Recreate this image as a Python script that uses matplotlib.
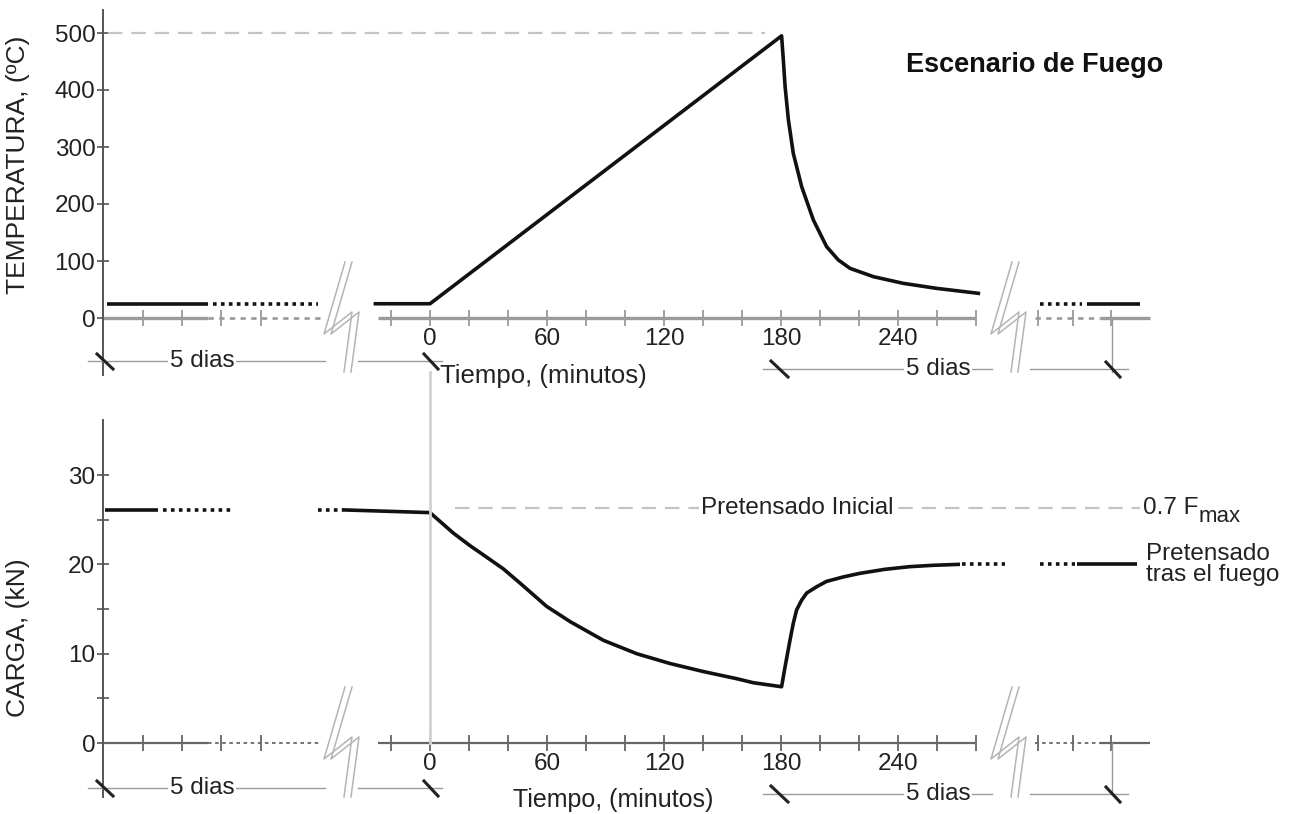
import matplotlib.pyplot as plt

plt.rcParams['font.family'] = ['Liberation Sans', 'DejaVu Sans']

# ---- values (time in minutes) ----
temp_time = [-28, 0, 180.3, 181.2, 182.1, 183.8, 186.3, 190.6, 196.6, 203.4,
             209.4, 215.4, 227.4, 242.7, 259.8, 281.2]
temp_vals = [25, 25, 495, 452.6, 405.8, 347.4, 288.9, 230.4, 171.9, 125.1,
             101.8, 87.1, 72.5, 60.8, 52.0, 43.3]
temp_ambient = 25
temp_limit = 500

load_time = [-44, 0, 12, 20.5, 29.1, 37.6, 46.2, 59.8, 71.8, 88.9, 106, 123.1,
             140.2, 157.3, 165.8, 180.3, 182.1, 184.6, 186.3, 188.0, 190.6,
             193.2, 198.3, 203.4, 212.0, 220.5, 233.3, 246.2, 258.1, 270.9]
load_vals = [26.1, 25.8, 23.5, 22.1, 20.8, 19.5, 17.9, 15.3, 13.6, 11.5, 10.0, 8.9,
             8.0, 7.2, 6.75, 6.3, 8.55, 11.5, 13.4, 14.9, 16.0,
             16.8, 17.5, 18.1, 18.6, 19.0, 19.45, 19.75, 19.9, 20.0]
load_initial = 26.1
load_after = 20.0
prestress_ref = 26.3

time_ticks = list(range(-20, 281, 20))
time_labels = [0, 60, 120, 180, 240]
temp_ticks = [0, 100, 200, 300, 400, 500]
load_ticks = [0, 5, 10, 15, 20, 25, 30]
load_labels = ['0', '', '10', '', '20', '', '30']

# ---- layout (pixels of the 1292x814 picture) ----
W, H = 1292, 814
X0 = 430          # pixel column of t = 0
PX_MIN = 1.95     # pixels per minute
AX_LEFT = 103
FS = 17.5


def tx(px):
    """pixel column -> position on the (stretched) time axis"""
    return (px - X0) / PX_MIN


DOTS = (0, (1, 1.2))
INK = '#111111'
TXT = '#222222'

fig = plt.figure(figsize=(W / 100, H / 100), dpi=100)
ax_t = fig.add_axes([AX_LEFT / W, 1 - 400 / H, (W - AX_LEFT) / W, 400 / H])
ax_b = fig.add_axes([AX_LEFT / W, 0, (W - AX_LEFT) / W, 414 / H])
over = fig.add_axes([0, 0, 1, 1], zorder=5)
for a in (ax_t, ax_b, over):
    a.set_facecolor('none')
over.set_xlim(0, W)
over.set_ylim(H, 0)
over.axis('off')

ax_t.set_ylim((318 - 400) / 0.57, 318 / 0.57)
ax_b.set_ylim((743 - 814) / 8.93, (743 - 400) / 8.93)


def style_axes(ax, yticks, ylabels, bounds):
    ax.set_xlim(tx(AX_LEFT), tx(W))
    for s in ('top', 'right', 'bottom'):
        ax.spines[s].set_visible(False)
    ax.spines['left'].set_bounds(*bounds)
    ax.spines['left'].set_color('#555555')
    ax.spines['left'].set_linewidth(1.4)
    ax.set_xticks([])
    ax.set_yticks(yticks)
    ax.set_yticklabels(ylabels)
    ax.tick_params(axis='y', direction='inout', length=9, width=1.2,
                   colors='#555555', labelcolor=TXT, labelsize=FS, pad=1)


def time_axis(ax, col, lw):
    kw = dict(color=col, lw=lw, solid_capstyle='butt')
    tk = dict(ls='none', marker='|', ms=11, mew=1.3, color=col)
    # left stub (5 days before)
    ax.plot([tx(103), tx(208)], [0, 0], **kw)
    ax.plot([tx(208), tx(320)], [0, 0], ls=(0, (2, 2)), color=col, lw=lw * 0.8)
    ax.plot([tx(143), tx(182), tx(221), tx(261)], [0] * 4, **tk)
    # test window
    ax.plot([tx(378), tx(975)], [0, 0], **kw)
    ax.plot(time_ticks, [0] * len(time_ticks), **tk)
    for t in time_labels:
        ax.annotate(str(t), (t, 0), xytext=(0, -7), textcoords='offset points',
                    ha='center', va='top', fontsize=FS, color=TXT)
    # right stub (5 days after)
    ax.plot([tx(1035), tx(1100)], [0, 0], ls=(0, (2, 2)), color=col, lw=lw * 0.8)
    ax.plot([tx(1100), tx(1150)], [0, 0], **kw)
    ax.plot([tx(1038), tx(1073), tx(1111)], [0] * 3, **tk)


style_axes(ax_t, temp_ticks, [str(v) for v in temp_ticks],
           ((318 - 375) / 0.57, (318 - 10) / 0.57))
style_axes(ax_b, load_ticks, load_labels,
           ((743 - 797) / 8.93, (743 - 420) / 8.93))
time_axis(ax_t, '#9a9a9a', 2.4)
time_axis(ax_b, '#666666', 1.6)

# ---- temperature panel ----
line = dict(color=INK, lw=2.6, solid_capstyle='butt')
dots = dict(color=INK, lw=2.6, ls=DOTS)
ax_t.plot([tx(107), tx(208)], [temp_ambient] * 2, **line)
ax_t.plot([tx(213), tx(318)], [temp_ambient] * 2, **dots)
ax_t.plot(temp_time, temp_vals, color=INK, lw=2.6, solid_joinstyle='round')
ax_t.plot([tx(1040), tx(1082)], [temp_ambient] * 2, **dots)
ax_t.plot([tx(1087), tx(1140)], [temp_ambient] * 2, **line)
ax_t.plot([tx(108), tx(765)], [temp_limit] * 2, color='#c4c4c4', lw=1.6,
          ls=(0, (6.5, 4)))
ax_t.plot([0, 0], [(318 - 372) / 0.57, ax_t.get_ylim()[0]], color='#d2d2d2', lw=2)
ax_t.plot([tx(1112)] * 2, [0, (318 - 372) / 0.57], color='#999999', lw=1)

# ---- load panel ----
ax_b.plot([tx(105), tx(158)], [load_initial] * 2, **line)
ax_b.plot([tx(163), tx(232)], [load_initial] * 2, **dots)
ax_b.plot([tx(318), tx(343)], [load_initial] * 2, **dots)
ax_b.plot(load_time, load_vals, color=INK, lw=2.6, solid_joinstyle='round')
ax_b.plot([tx(962), tx(1005)], [load_after] * 2, **dots)
ax_b.plot([tx(1040), tx(1075)], [load_after] * 2, **dots)
ax_b.plot([tx(1077), tx(1137)], [load_after] * 2, **line)
ax_b.plot([tx(455), tx(1140)], [prestress_ref] * 2, color='#c4c4c4', lw=1.6,
          ls=(0, (6.5, 4)))
ax_b.text(tx(797), prestress_ref, 'Pretensado Inicial', ha='center', va='center',
          fontsize=FS, color=TXT,
          bbox=dict(facecolor='white', edgecolor='none', pad=1))
ax_b.text(tx(1146), load_after, 'Pretensado\ntras el fuego', ha='left', va='center',
          fontsize=FS, color=TXT, linespacing=0.92)
ax_b.plot([0, 0], [0, ax_b.get_ylim()[1]], color='#d2d2d2', lw=2)
ax_b.plot([tx(1112)] * 2, [0, (743 - 794) / 8.93], color='#999999', lw=1)

# 0.7 F_max with a large, lowered subscript
over.text(1143, 508, '0.7 F', ha='left', va='center', fontsize=FS, color=TXT,
          bbox=dict(facecolor='white', edgecolor='none', pad=0.5))
over.text(1199, 516, 'max', ha='left', va='center', fontsize=16, color=TXT)

# ---- decorations: axis breaks, dimension lines, labels ----
bolt_dx = [7, -14, 14, 6]
bolt_dy = [-56, 16, -6, 54]
for cx in (338, 1005):
    for base in (318, 743):
        for off in (0, 7):
            over.plot([cx + d + off for d in bolt_dx], [base + d for d in bolt_dy],
                      color='#b4b4b4', lw=1.1)


def dims(y_left, y_right):
    g = dict(color='#9a9a9a', lw=1)
    s = dict(color='#222222', lw=2.2)
    over.plot([88, 325], [y_left] * 2, **g)
    over.plot([358, 442], [y_left] * 2, **g)
    over.plot([97, 113], [y_left - 7, y_left + 8], **s)
    over.plot([424, 438], [y_left - 7, y_left + 8], **s)
    over.text(202, y_left, '5 dias', ha='center', va='center', fontsize=FS,
              color=TXT, bbox=dict(facecolor='white', edgecolor='none', pad=1))
    over.plot([763, 992], [y_right] * 2, **g)
    over.plot([1030, 1128], [y_right] * 2, **g)
    over.plot([771, 788], [y_right - 8, y_right + 8], **s)
    over.plot([1106, 1120], [y_right - 7, y_right + 8], **s)
    over.text(938, y_right, '5 dias', ha='center', va='center', fontsize=FS,
              color=TXT, bbox=dict(facecolor='white', edgecolor='none', pad=1))


dims(361, 369)
dims(788, 794)

over.text(543, 376, 'Tiempo, (minutos)', ha='center', va='center', fontsize=18.5,
          color=TXT)
over.text(613, 800, 'Tiempo, (minutos)', ha='center', va='center', fontsize=18,
          color=TXT)
over.text(1035, 65, 'Escenario de Fuego', ha='center', va='center', fontsize=19.5,
          fontweight='bold', color='#111111')
over.text(18, 165, 'TEMPERATURA, (ºC)', rotation=90, ha='center', va='center',
          fontsize=19, color=TXT)
over.text(18, 638, 'CARGA, (kN)', rotation=90, ha='center', va='center',
          fontsize=19, color=TXT)

fig.savefig('out.png', dpi=100, facecolor='white')
